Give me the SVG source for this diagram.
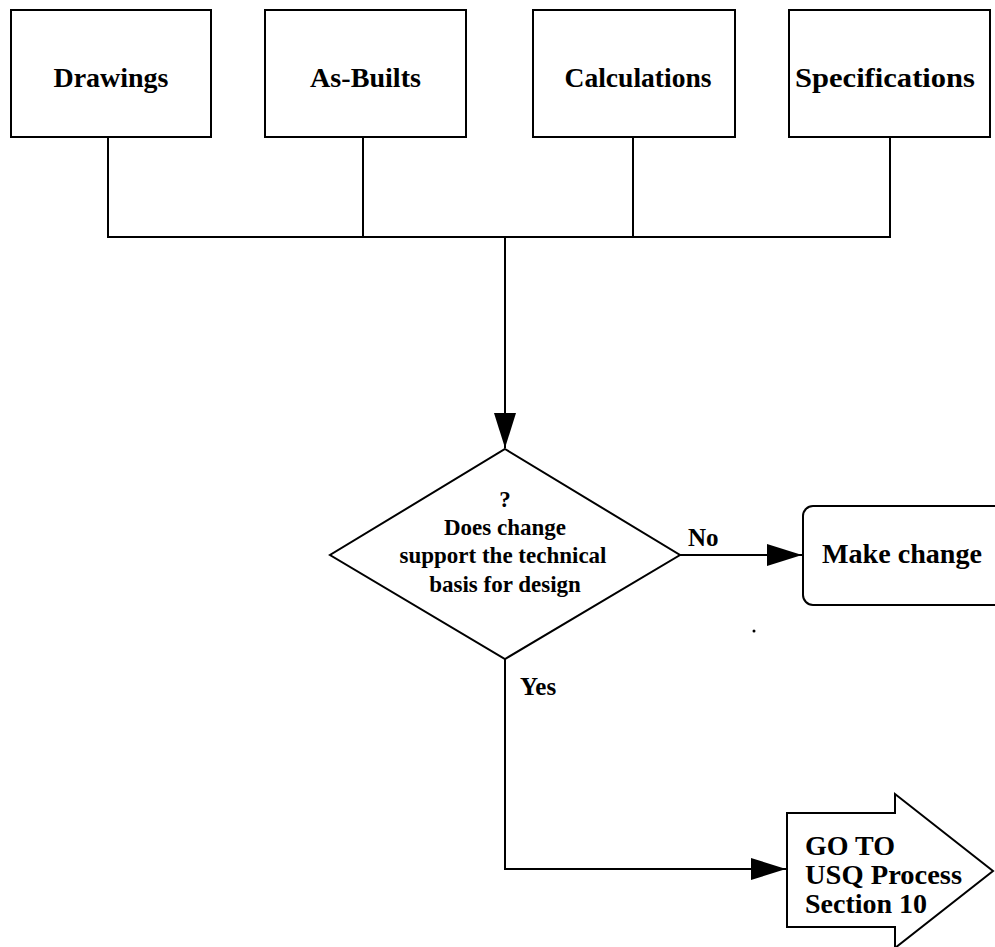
<svg xmlns="http://www.w3.org/2000/svg" width="995" height="947" viewBox="0 0 995 947">
<style>
.box{fill:#fff;stroke:#000;stroke-width:2}
.ln{fill:none;stroke:#000;stroke-width:2}
.t{font-family:"Liberation Serif","Times New Roman",serif;font-weight:bold;fill:#000}
.bt{font-size:27px;text-anchor:middle}
.dt{font-size:23px;text-anchor:middle}
</style>
<defs>
<marker id="ah" markerUnits="userSpaceOnUse" markerWidth="36" markerHeight="24" refX="35" refY="11" orient="auto">
<path d="M0,0 L35,11 L0,22 Z" fill="#000"/>
</marker>
</defs>
<rect width="995" height="947" fill="#fff"/>
<g id="connectors">
<path class="ln" d="M108,137 V237 H890 V137"/>
<path class="ln" d="M363,137 V237"/>
<path class="ln" d="M633,137 V237"/>
<path class="ln" d="M505,237 V448" marker-end="url(#ah)"/>
<path class="ln" d="M680,555 H802" marker-end="url(#ah)"/>
<path class="ln" d="M505,659 V869 H786" marker-end="url(#ah)"/>
<text class="t" x="688" y="546" font-size="25">No</text>
<text class="t" x="520" y="695" font-size="25">Yes</text>
</g>
<g id="drawings">
<rect class="box" x="11" y="10" width="200" height="127"/>
<text class="t bt" x="111" y="87" textLength="115" lengthAdjust="spacingAndGlyphs">Drawings</text>
</g>
<g id="as-builts">
<rect class="box" x="265" y="10" width="201" height="127"/>
<text class="t bt" x="365.5" y="87" textLength="111" lengthAdjust="spacingAndGlyphs">As-Builts</text>
</g>
<g id="calculations">
<rect class="box" x="533" y="10" width="202" height="127"/>
<text class="t bt" x="638" y="87" textLength="147" lengthAdjust="spacingAndGlyphs">Calculations</text>
</g>
<g id="specifications">
<rect class="box" x="789" y="10" width="201" height="127"/>
<text class="t bt" x="885" y="87" textLength="180" lengthAdjust="spacingAndGlyphs">Specifications</text>
</g>
<g id="decision">
<polygon class="box" points="505,449 680,555 505,659 330,555"/>
<text class="t dt" x="505" y="507">?</text>
<text class="t dt" x="505" y="535">Does change</text>
<text class="t dt" x="503" y="563">support the technical</text>
<text class="t dt" x="505" y="592">basis for design</text>
</g>
<g id="make-change">
<rect class="box" x="803" y="506" width="212" height="99" rx="10" ry="10"/>
<text class="t" x="822" y="563" font-size="28" textLength="160" lengthAdjust="spacingAndGlyphs">Make change</text>
</g>
<g id="goto">
<polygon class="box" points="787,813 895,813 895,794 993,871 895,948 895,927 787,927"/>
<text class="t" x="805" y="855" font-size="28">GO TO</text>
<text class="t" x="805" y="884" font-size="28" textLength="157" lengthAdjust="spacingAndGlyphs">USQ Process</text>
<text class="t" x="805" y="913" font-size="28">Section 10</text>
</g>
<circle cx="754" cy="631" r="1.5" fill="#000"/>
</svg>
